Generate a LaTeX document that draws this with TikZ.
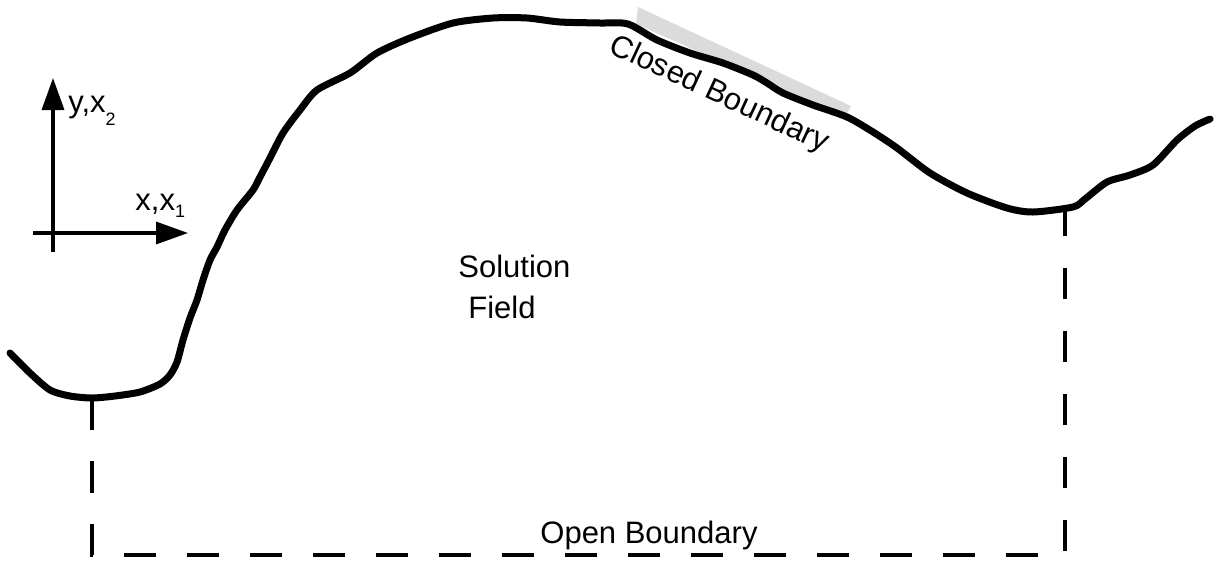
\documentclass[tikz,border=0pt]{standalone}
\usepackage{fontspec}
\setmainfont{Liberation Sans}
\usetikzlibrary{arrows.meta}
\begin{document}
\begin{tikzpicture}[x=0.5pt, y=-0.5pt,
  boundary/.style={line width=3.5pt, line join=round, line cap=round},
  openline/.style={line width=1.6pt, dash pattern=on 15.75pt off 15.75pt},
  axis/.style={line width=1.7pt, -{Triangle[length=16pt,width=11pt]}},
  txt/.style={font=\fontsize{15.5}{18}\selectfont, inner sep=0pt},
  highlight/.style={fill=black!14, draw=none}]
\useasboundingbox (0,0) rectangle (1214,563);

% shaded strip marking the closed boundary
\fill[highlight] (638,7) -- (851,106) -- (845,117) -- (636,24) -- cycle;

% closed boundary curve
\draw[boundary] plot[smooth, tension=0.45] coordinates {
  (10,353) (30,373) (50,390) (70,396) (92,398) (115,396) (140,392) (160,384)
  (170,375) (177,362) (183,340) (190,318) (197,300) (203,280) (210,260)
  (217,247) (225,230) (237,210) (253,190) (260,177) (270,158) (283,133)
  (300,110) (317,90) (350,73) (377,53) (410,38) (453,23) (493,18) (527,18)
  (560,22) (600,23) (628,24) (657,40) (690,53) (723,63) (753,75) (767,83)
  (783,93) (813,105) (847,117) (873,132) (897,148) (930,173) (967,193)
  (1007,208) (1033,212) (1073,207) (1085,199) (1107,182) (1130,175)
  (1153,165) (1177,140) (1195,126) (1210,119)};

% open boundary
\coordinate (leftfoot) at (92,398);
\coordinate (cornerL) at (92,555);
\coordinate (cornerR) at (1065,555);
\coordinate (rightfoot) at (1065,208);
\draw[openline] (leftfoot) -- (cornerL) -- (cornerR) -- (rightfoot);

% coordinate axes
\coordinate (ybot) at (53,252);
\coordinate (ytip) at (53,78);
\coordinate (xleft) at (33,233);
\coordinate (xtip) at (188,233);
\draw[axis] (ybot) -- (ytip);
\draw[axis] (xleft) -- (xtip);
\node[txt, anchor=base west] (ylbl) at (68,112)
  {y,x\raisebox{-6.5pt}{\fontsize{9}{10}\selectfont 2}};
\node[txt, anchor=base west] (xlbl) at (135,210)
  {x,x\raisebox{-3.5pt}{\fontsize{9}{10}\selectfont 1}};

% labels
\node[txt, anchor=base west] (sol) at (458,277) {Solution};
\node[txt, anchor=base west] (fld) at (468,318) {Field};
\node[txt, anchor=base west] (open) at (540,543) {Open Boundary};
\node[txt, rotate=-25] (closed) at (719,95) {Closed Boundary};
\end{tikzpicture}
\end{document}
